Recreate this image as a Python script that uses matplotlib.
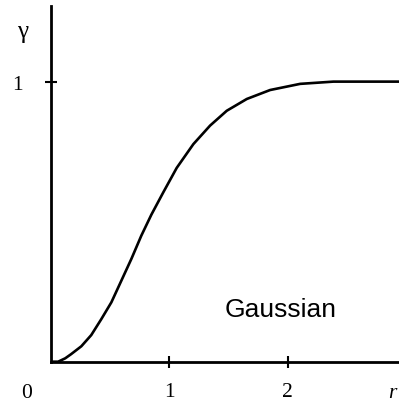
"""Gaussian variogram model: gamma rising smoothly to the sill at 1."""

import matplotlib

matplotlib.use("Agg")
import matplotlib.pyplot as plt

# Lag distance r and semivariance gamma along the Gaussian model curve
lag_r = [0.0, 0.06, 0.12, 0.17, 0.256, 0.34, 0.425, 0.51, 0.594, 0.679,
         0.763, 0.848, 0.949, 1.062, 1.203, 1.344, 1.485, 1.654, 1.851,
         2.105, 2.386, 2.61, 2.94]
gamma = [0.0, 0.0, 0.012, 0.027, 0.055, 0.095, 0.152, 0.212, 0.289, 0.367,
         0.45, 0.525, 0.605, 0.692, 0.777, 0.843, 0.896, 0.938, 0.970,
         0.992, 1.0, 1.0, 1.0]

x_ticks = [1, 2]
x_tick_labels = ["1", "2"]
y_ticks = [1]
y_tick_labels = ["1"]
model_name = "Gaussian"

SERIF = ["Liberation Serif", "DejaVu Serif"]
SANS = ["Liberation Sans", "DejaVu Sans"]


def main() -> None:
    fig = plt.figure(figsize=(3.99, 4.02), dpi=100)
    ax = fig.add_axes([51 / 399, 39.3 / 402, 1 - 51 / 399, (362.7 - 7) / 402])

    ax.plot(lag_r, gamma, color="black", linewidth=1.9,
            solid_joinstyle="round")

    ax.set_xlim(0, 2.94)
    ax.set_ylim(0, 1.27)

    for side in ("top", "right"):
        ax.spines[side].set_visible(False)
    for side in ("left", "bottom"):
        ax.spines[side].set_linewidth(2.0)
        ax.spines[side].set_color("black")

    ax.set_xticks(x_ticks)
    ax.set_xticklabels(x_tick_labels, fontfamily=SERIF, fontsize=15.5)
    ax.set_yticks(y_ticks)
    ax.set_yticklabels(y_tick_labels, fontfamily=SERIF, fontsize=15.5)
    ax.tick_params(axis="x", direction="inout", length=8, width=1.5, pad=10.5)
    ax.tick_params(axis="y", direction="inout", length=9, width=1.5, pad=16)

    # origin label and axis names
    ax.annotate("0", xy=(0, 0), xycoords="axes fraction", xytext=(-17.3, -25.4),
                textcoords="offset points", ha="center", va="baseline",
                fontfamily=SERIF, fontsize=15.5)
    ax.annotate("r", xy=(1, 0), xycoords="axes fraction", xytext=(-5, -25.4),
                textcoords="offset points", ha="center", va="baseline",
                fontfamily=SERIF, fontsize=15.5, style="italic")
    ax.annotate("γ", xy=(0, 1), xycoords="axes fraction", xytext=(-20.5, -18),
                textcoords="offset points", ha="center", va="center",
                fontfamily=SERIF, fontsize=18)

    ax.text(0.661, 0.128, model_name, transform=ax.transAxes, ha="center",
            va="baseline", fontfamily=SANS, fontsize=19)

    fig.savefig("out.png", dpi=100)


if __name__ == "__main__":
    main()
